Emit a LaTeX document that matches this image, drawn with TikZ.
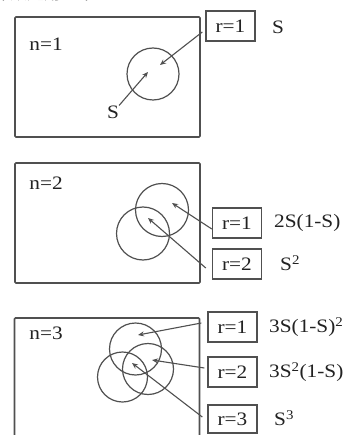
\documentclass[tikz,border=0pt]{standalone}
\usepackage{fontspec}
\setmainfont{Liberation Serif}[FakeStretch=1.12]
\newfontfamily\cjk{Noto Sans CJK SC}
\usetikzlibrary{arrows.meta,calc}
\definecolor{ln}{HTML}{505050}
\definecolor{tx}{HTML}{222222}
\tikzset{
  bigbox/.style={draw=ln,line width=1.6pt,rectangle,inner sep=0pt,minimum width=185pt,rounded corners=1pt},
  rbox/.style={draw=ln,line width=1.4pt,rectangle,inner sep=0pt,minimum width=49pt,minimum height=30pt,text=tx,font=\fontsize{19}{21}\selectfont},
  lab/.style={inner sep=0pt,text=tx,font=\fontsize{19}{21}\selectfont},
  circ/.style={draw=ln,line width=1.2pt,circle,inner sep=0pt},
  arr/.style={draw=ln,line width=1.1pt,-{Stealth[length=6pt,width=5pt]}}
}
\begin{document}
\begin{tikzpicture}[x=1pt,y=-1pt]
\useasboundingbox (0,0) rectangle (344,435);
\clip (0,0) rectangle (344,435);
\fill[white] (0,0) rectangle (344,435);
% cropped top text
\node[lab,anchor=base west,font=\cjk\fontsize{17}{19}\selectfont,text=black] (top) at (-7,0) {作数是用一个};
% ---------- panel 1 ----------
\node[bigbox,minimum height=120pt] (B1) at (107.5,77) {};
\node[lab] (n1) at (46,44) {n=1};
\node[circ,minimum size=52pt] (c1) at (153,74) {};
\node[rbox] (ra1) at (230.5,26) {r=1};
\node[lab,anchor=west] (pa1) at (272,27) {S};
\node[lab] (s1) at (113,112) {S};
\coordinate (h11) at (160,65);
\coordinate (h12) at (148,72);
\draw[arr] ($(ra1.west)+(-3,6)$) -- (h11);
\draw[arr] (s1.north east) -- (h12);
% ---------- panel 2 ----------
\node[bigbox,minimum height=120pt] (B2) at (107.5,223) {};
\node[lab] (n2) at (46,183) {n=2};
\node[circ,minimum size=53pt] (c2a) at (162,210) {};
\node[circ,minimum size=53pt] (c2b) at (143,233.5) {};
\node[rbox] (ra2) at (237,223) {r=1};
\node[rbox] (rb2) at (237,264) {r=2};
\node[lab,anchor=west] (pa2) at (274,223) {2S(1-S)};
\node[lab,anchor=west] (pb2) at (280,263) {S\textsuperscript{2}};
\coordinate (h21) at (172,203);
\coordinate (h22) at (148,218);
\draw[arr] ($(ra2.west)+(0,6)$) -- (h21);
\draw[arr] ($(rb2.west)+(-6,4)$) -- (h22);
% ---------- panel 3 ----------
\node[bigbox,minimum height=130pt] (B3) at (107,383) {};
\node[lab] (n3) at (46,333) {n=3};
\node[circ,minimum size=52pt] (c3a) at (135.5,349) {};
\node[circ,minimum size=51pt] (c3b) at (148,369) {};
\node[circ,minimum size=50pt] (c3c) at (122.5,377) {};
\node[rbox] (ra3) at (232.5,327) {r=1};
\node[rbox] (rb3) at (232.5,372) {r=2};
\node[rbox,minimum height=28pt] (rc3) at (232.5,419) {r=3};
\node[lab,anchor=west] (pa3) at (269,327) {3S(1-S)\textsuperscript{2}};
\node[lab,anchor=west] (pb3) at (269,372) {3S\textsuperscript{2}(1-S)};
\node[lab,anchor=west] (pc3) at (274,418) {S\textsuperscript{3}};
\coordinate (h31) at (138,335);
\coordinate (h32) at (152,360);
\coordinate (h33) at (132,363);
\draw[arr] ($(ra3.west)+(-6,-4)$) -- (h31);
\draw[arr] ($(rb3.west)+(-3,-4)$) -- (h32);
\draw[arr] ($(rc3.west)+(-5,-2)$) -- (h33);
\end{tikzpicture}
\end{document}
